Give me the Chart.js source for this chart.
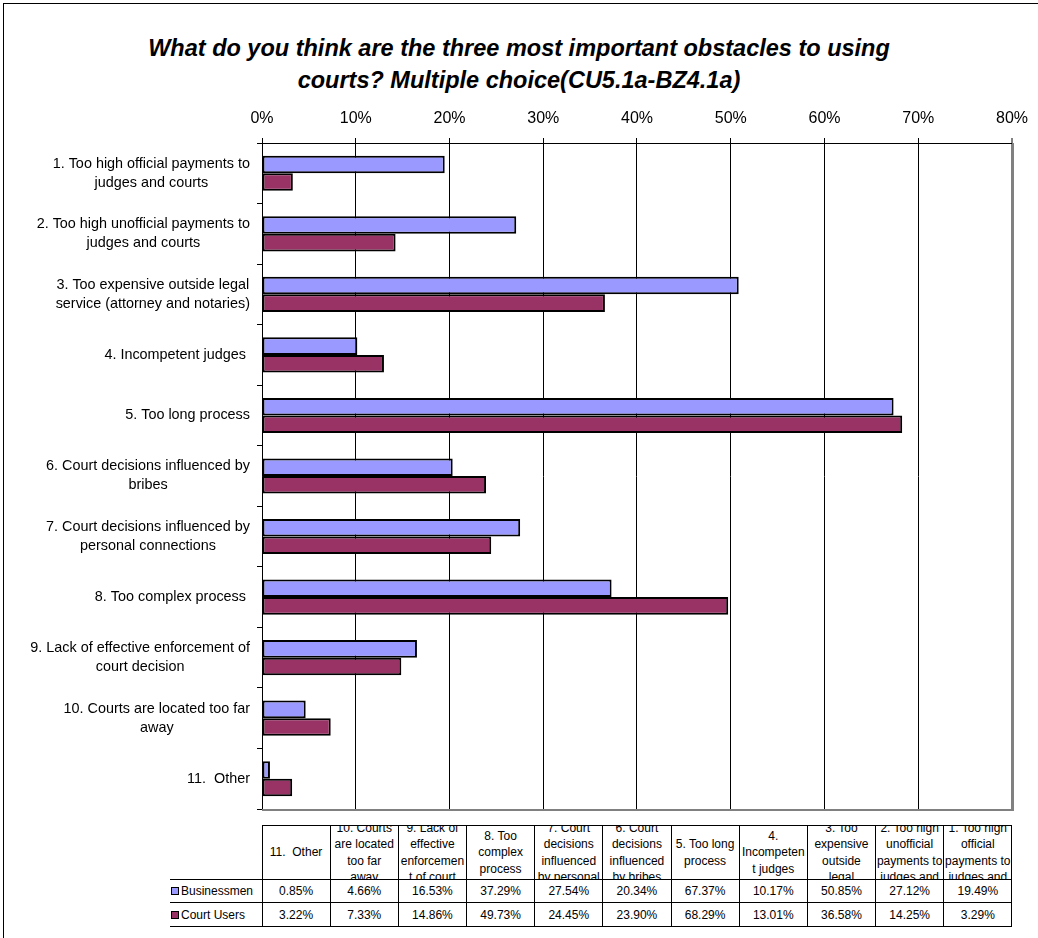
<!DOCTYPE html>
<html><head><meta charset="utf-8">
<script src="https://cdn.jsdelivr.net/npm/chart.js@4"></script>
<style>
html,body{margin:0;padding:0;background:#fff;overflow:hidden;width:1038px;height:938px;}
#frame{position:absolute;left:3px;top:3px;width:1100px;height:1000px;border-left:1px solid #000;border-top:1px solid #000;box-sizing:border-box;}
#title{position:absolute;left:0;top:32px;width:1038px;text-align:center;font:italic bold 23.5px "Liberation Sans",Arial,sans-serif;line-height:32px;color:#000;}
#c{position:absolute;left:0;top:0;}
#tbl{position:absolute;left:170px;top:825px;border-collapse:collapse;table-layout:fixed;font:12px "Liberation Sans",Arial,sans-serif;color:#000;}
#tbl td{padding:0;text-align:center;vertical-align:middle;}
#tbl td.d{border:1px solid #000;}
#tbl td.lg{border-top:1px solid #000;border-bottom:1px solid #000;text-align:left;white-space:nowrap;}
.hd{height:53px;overflow:hidden;display:flex;flex-direction:column;justify-content:center;align-items:center;}
.hc{width:67px;line-height:16.5px;white-space:nowrap;text-align:center;}
.mk{display:inline-block;width:6px;height:6px;border:1px solid #000;margin:0 2px 0 1px;vertical-align:0px;}
</style></head>
<body>
<div id="frame"></div>
<div id="title">What do you think are the three most important obstacles to using<br>courts? Multiple choice(CU5.1a-BZ4.1a)</div>
<canvas id="c" width="1038" height="820"></canvas>
<table id="tbl"></table>
<script>
// ---- data ----
const categoryLines = [
  ["1. Too high official payments to", "judges and courts"],
  ["2. Too high unofficial payments to", "judges and courts"],
  ["3. Too expensive outside legal", "service (attorney and notaries)"],
  ["4. Incompetent judges "],
  ["5. Too long process"],
  ["6. Court decisions influenced by", "bribes"],
  ["7. Court decisions influenced by", "personal connections"],
  ["8. Too complex process "],
  ["9. Lack of effective enforcement of", "court decision"],
  ["10. Courts are located too far", "away"],
  ["11.  Other"]
];
// data-table column headings, as wrapped in the original table (same category order)
const tableHeaderLines = [
  ["1. Too high", "official", "payments to", "judges and", "courts"],
  ["2. Too high", "unofficial", "payments to", "judges and", "courts"],
  ["3. Too", "expensive", "outside", "legal", "service", "(attorney", "and notaries)"],
  ["4.", "Incompeten", "t judges"],
  ["5. Too long", "process"],
  ["6. Court", "decisions", "influenced", "by bribes"],
  ["7. Court", "decisions", "influenced", "by personal", "connections"],
  ["8. Too", "complex", "process"],
  ["9. Lack of", "effective", "enforcemen", "t of court", "decision"],
  ["10. Courts", "are located", "too far", "away"],
  ["11.  Other"]
];
const seriesNames = ["Businessmen", "Court Users"];
const businessmen = [19.49, 27.12, 50.85, 10.17, 67.37, 20.34, 27.54, 37.29, 16.53, 4.66, 0.85];
const courtUsers  = [3.29, 14.25, 36.58, 13.01, 68.29, 23.90, 24.45, 49.73, 14.86, 7.33, 3.22];
const xTickValues = [0, 10, 20, 30, 40, 50, 60, 70, 80];
const seriesColors = ["#9999FF", "#993366"];

const FONT = '"Liberation Sans", Arial, sans-serif';

// ---- category label plugin (right-aligned block, centred lines) ----
const catLabels = {
  id: 'catLabels',
  afterDraw(chart) {
    const ctx = chart.ctx, ys = chart.scales.y;
    ctx.save();
    ctx.font = '14.4px ' + FONT;
    ctx.fillStyle = '#000';
    ctx.textAlign = 'center';
    ctx.textBaseline = 'middle';
    const right = ys.right - 12;
    categoryLines.forEach((lines, i) => {
      const y = ys.getPixelForValue(i);
      const w = Math.max(...lines.map(l => ctx.measureText(l).width));
      const cx = right - w / 2;
      lines.forEach((l, j) => ctx.fillText(l, cx, y + (j - (lines.length - 1) / 2) * 19));
    });
    ctx.restore();
  }
};
const plotBorder = {
  id: 'plotBorder',
  afterDatasetsDraw(chart) {
    const a = chart.chartArea, ctx = chart.ctx;
    ctx.save();
    ctx.strokeStyle = '#808080';
    ctx.lineWidth = 2;
    ctx.beginPath();
    ctx.moveTo(a.left, a.bottom + 1);
    ctx.lineTo(a.right + 1, a.bottom + 1);
    ctx.lineTo(a.right + 1, a.top);
    ctx.stroke();
    ctx.restore();
  }
};

new Chart(document.getElementById('c'), {
  type: 'bar',
  data: {
    labels: categoryLines.map(l => l.join(' ')),
    datasets: [
      { label: seriesNames[0], data: businessmen, backgroundColor: seriesColors[0] },
      { label: seriesNames[1], data: courtUsers, backgroundColor: seriesColors[1] }
    ]
  },
  options: {
    indexAxis: 'y',
    responsive: false,
    animation: false,
    events: [],
    datasets: { bar: { categoryPercentage: 0.58, barPercentage: 1.0, borderColor: '#000', borderWidth: 2, borderSkipped: false } },
    layout: { padding: { left: 0, top: 100, right: 26, bottom: 11 } },
    plugins: { legend: { display: false }, title: { display: false }, tooltip: { enabled: false } },
    scales: {
      x: {
        position: 'top', min: xTickValues[0], max: xTickValues[xTickValues.length - 1],
        afterBuildTicks: s => { s.ticks = xTickValues.map(v => ({ value: v })); },
        ticks: { callback: v => v + '%', color: '#000', font: { family: FONT, size: 16 }, padding: 10, maxRotation: 0 },
        grid: {
          color: c => (c.tick && c.tick.value === 80) ? '#808080' : '#000',
          lineWidth: c => (c.tick && c.tick.value === 80) ? 2 : 1,
          tickLength: 5, drawOnChartArea: true
        },
        border: { color: '#000', width: 1 },
        afterFit: s => { s.height = 43; }
      },
      y: {
        type: 'category', offset: true,
        ticks: { display: false },
        grid: { offset: true, drawOnChartArea: false, tickLength: 5, color: '#000' },
        border: { color: '#000', width: 1 },
        afterFit: s => { s.width = 262; }
      }
    }
  },
  plugins: [catLabels, plotBorder]
});

// ---- data table (columns in reverse category order, like the original) ----
const tbl = document.getElementById('tbl');
const order = categoryLines.map((_, i) => i).reverse();
const esc = s => s.replace(/&/g, '&amp;').replace(/</g, '&lt;').replace(/  /g, '&nbsp; ');
let html = '<colgroup><col style="width:92px">' + order.map(() => '<col style="width:68.18px">').join('') + '</colgroup>';
html += '<tr><td></td>' + order.map(i => '<td class="d"><div class="hd"><div class="hc">' + tableHeaderLines[i].map(esc).join('<br>') + '</div></div></td>').join('') + '</tr>';
[businessmen, courtUsers].forEach((arr, s) => {
  html += '<tr style="height:' + (s === 0 ? 23 : 24) + 'px"><td class="lg"><span class="mk" style="background:' + seriesColors[s] + '"></span>' + seriesNames[s] + '</td>' +
    order.map(i => '<td class="d">' + arr[i].toFixed(2) + '%</td>').join('') + '</tr>';
});
tbl.innerHTML = html;
document.querySelectorAll('.hd').forEach(hd => {
  const hc = hd.firstChild;
  if (hc.offsetHeight > hd.clientHeight) {
    hd.style.justifyContent = 'flex-start';
    hc.style.marginTop = '-6.5px';
  }
});
</script>
</body></html>
